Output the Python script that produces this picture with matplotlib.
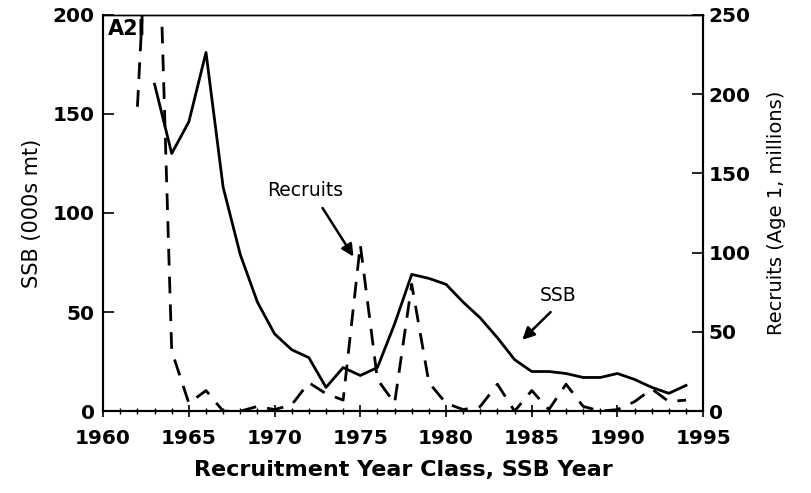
import matplotlib
matplotlib.use("Agg")
import matplotlib.pyplot as plt
from matplotlib.ticker import MultipleLocator

# SSB (000s mt), left axis
ssb_years = list(range(1963, 1995))
ssb = [165, 130, 146, 181, 113, 79, 55, 39, 31, 27, 12, 22, 18, 22, 44, 69,
       67, 64, 55, 47, 37, 26, 20, 20, 19, 17, 17, 19, 16, 12, 9, 13]

# Recruits (Age 1, millions), right axis
rec_years = list(range(1962, 1995))
recruits = [192, 400, 38, 5, 13, 0, 0, 3, 1, 4, 18, 11, 7, 105, 20, 5, 80,
            18, 5, 1, 3, 17, 0, 13, 1, 17, 3, 0, 1, 6, 14, 6, 7]

xticks = [1960, 1965, 1970, 1975, 1980, 1985, 1990, 1995]

plt.rcParams['font.family'] = ['DejaVu Sans']

fig = plt.figure(figsize=(8.12, 4.93), dpi=100)
ax = fig.add_axes([0.127, 0.166, 0.739, 0.804])
ax2 = ax.twinx()

ax.plot(ssb_years, ssb, color='black', linewidth=2.0, solid_joinstyle='round')
ax2.plot(rec_years, recruits, color='black', linewidth=2.0,
         dashes=(6, 4), dash_capstyle='butt')

ax.set_xlim(1960, 1995)
ax.set_ylim(0, 200)
ax2.set_ylim(0, 250)

ax.set_xticks(xticks)
ax.xaxis.set_minor_locator(MultipleLocator(1))
ax.set_yticks([0, 50, 100, 150, 200])
ax2.set_yticks([0, 50, 100, 150, 200, 250])

ax.tick_params(axis='x', which='major', direction='inout', length=9, width=1.2,
               labelsize=14.5, pad=8)
ax.tick_params(axis='x', which='minor', direction='inout', length=5, width=1)
ax.tick_params(axis='y', which='major', direction='in', length=8, width=1.2,
               labelsize=14.5, pad=6)
ax2.tick_params(axis='y', which='major', direction='in', length=8, width=1.2,
                labelsize=14.5, pad=4)
for lab in ax.get_xticklabels() + ax.get_yticklabels() + ax2.get_yticklabels():
    lab.set_fontweight('bold')

for a in (ax, ax2):
    for side in ('left', 'right', 'bottom'):
        a.spines[side].set_linewidth(1.5)
    a.spines['top'].set_linewidth(1.0)

ax.set_xlabel('Recruitment Year Class, SSB Year', fontsize=16,
              fontweight='bold', labelpad=9)
ax.set_ylabel('SSB (000s mt)', fontsize=15, labelpad=8)
ax2.set_ylabel('Recruits (Age 1, millions)', fontsize=14, labelpad=12)

ax.text(1960.3, 198, 'A2I', fontsize=15, fontweight='bold', va='top', ha='left')

# annotations
ax.text(1971.8, 111.5, 'Recruits', fontsize=13.5, ha='center', va='center')
ax.annotate('', xy=(1974.6, 78), xytext=(1972.8, 102.5),
            arrowprops=dict(arrowstyle='-|>', color='black', lw=1.8,
                            mutation_scale=18, shrinkA=0, shrinkB=0))
ax.text(1986.55, 58.6, 'SSB', fontsize=13.5, ha='center', va='center')
ax.annotate('', xy=(1984.45, 36), xytext=(1986.1, 50),
            arrowprops=dict(arrowstyle='-|>', color='black', lw=1.8,
                            mutation_scale=18, shrinkA=0, shrinkB=0))

fig.savefig('out.png', dpi=100)
